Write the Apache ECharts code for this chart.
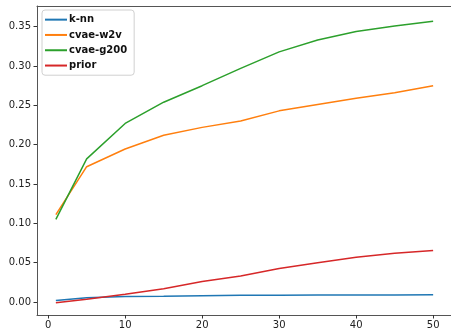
<!DOCTYPE html>
<html><head><meta charset="utf-8">
<script src="https://cdn.jsdelivr.net/npm/echarts@6/dist/echarts.min.js"></script>
<style>html,body{margin:0;padding:0;background:#fff}#c{width:451px;height:335px}</style>
</head><body><div id="c"></div>
<script>
const xValues = [1, 5, 10, 15, 20, 25, 30, 35, 40, 45, 50];
const knn = [0.002, 0.0055, 0.007, 0.0073, 0.008, 0.0085, 0.0086, 0.0088, 0.0089, 0.009, 0.0092];
const cvaeW2v = [0.111, 0.172, 0.1945, 0.212, 0.222, 0.230, 0.243, 0.251, 0.259, 0.266, 0.275];
const cvaeG200 = [0.105, 0.182, 0.227, 0.254, 0.275, 0.297, 0.318, 0.333, 0.344, 0.351, 0.357];
const prior = [-0.001, 0.0035, 0.010, 0.017, 0.026, 0.033, 0.0425, 0.050, 0.057, 0.062, 0.0655];
const xTicks = [0, 10, 20, 30, 40, 50];
const yTicks = [0, 0.05, 0.10, 0.15, 0.20, 0.25, 0.30, 0.35];
const seriesNames = ['k-nn', 'cvae-w2v', 'cvae-g200', 'prior'];
const seriesData = [knn, cvaeW2v, cvaeG200, prior];
const colors = ['#1f77b4', '#ff7f0e', '#2ca02c', '#d62728'];

const chart = echarts.init(document.getElementById('c'), null, {renderer: 'canvas'});
const font = 'DejaVu Sans';
const X_MIN = -1.45, X_MAX = 52.32;
chart.setOption({
  animation: false,
  color: colors,
  grid: {left: 37, top: 6, right: 0, bottom: 20, show: false, containLabel: false},
  legend: {
    orient: 'vertical', left: 42, top: 10,
    padding: [4, 7, 4, 3],
    itemWidth: 22, itemHeight: 2, itemGap: 4,
    icon: 'rect',
    backgroundColor: '#fff', borderColor: '#d0d0d0', borderWidth: 1, borderRadius: 3,
    textStyle: {fontFamily: font, fontSize: 10, fontWeight: 'bold', color: '#111', lineHeight: 11.3, padding: [0, 0, 0, -3]},
    data: seriesNames
  },
  xAxis: [{
    type: 'value', min: X_MIN, max: X_MAX,
    axisLine: {show: true, onZero: false, lineStyle: {color: '#555', width: 1}},
    axisTick: {show: true, length: 3.5, lineStyle: {color: '#333'}, customValues: xTicks},
    axisLabel: {fontFamily: font, fontSize: 10, color: '#222', margin: 5, customValues: xTicks},
    splitLine: {show: false}
  }, {
    type: 'value', position: 'top', min: X_MIN, max: X_MAX,
    axisLine: {show: true, onZero: false, lineStyle: {color: '#555', width: 1}},
    axisTick: {show: false}, axisLabel: {show: false}, splitLine: {show: false}
  }],
  yAxis: {
    type: 'value', min: -0.0165, max: 0.3763,
    axisLine: {show: true, onZero: false, lineStyle: {color: '#555', width: 1}},
    axisTick: {show: true, length: 3.5, lineStyle: {color: '#333'}, customValues: yTicks},
    axisLabel: {fontFamily: font, fontSize: 10, color: '#222', margin: 6, customValues: yTicks,
      formatter: v => v.toFixed(2)},
    splitLine: {show: false}
  },
  series: seriesNames.map((n, i) => ({
    name: n, type: 'line', showSymbol: false, symbol: 'none', xAxisIndex: 0,
    lineStyle: {width: 1.5, color: colors[i]},
    itemStyle: {color: colors[i]},
    data: xValues.map((x, j) => [x, seriesData[i][j]])
  }))
});
</script></body></html>
